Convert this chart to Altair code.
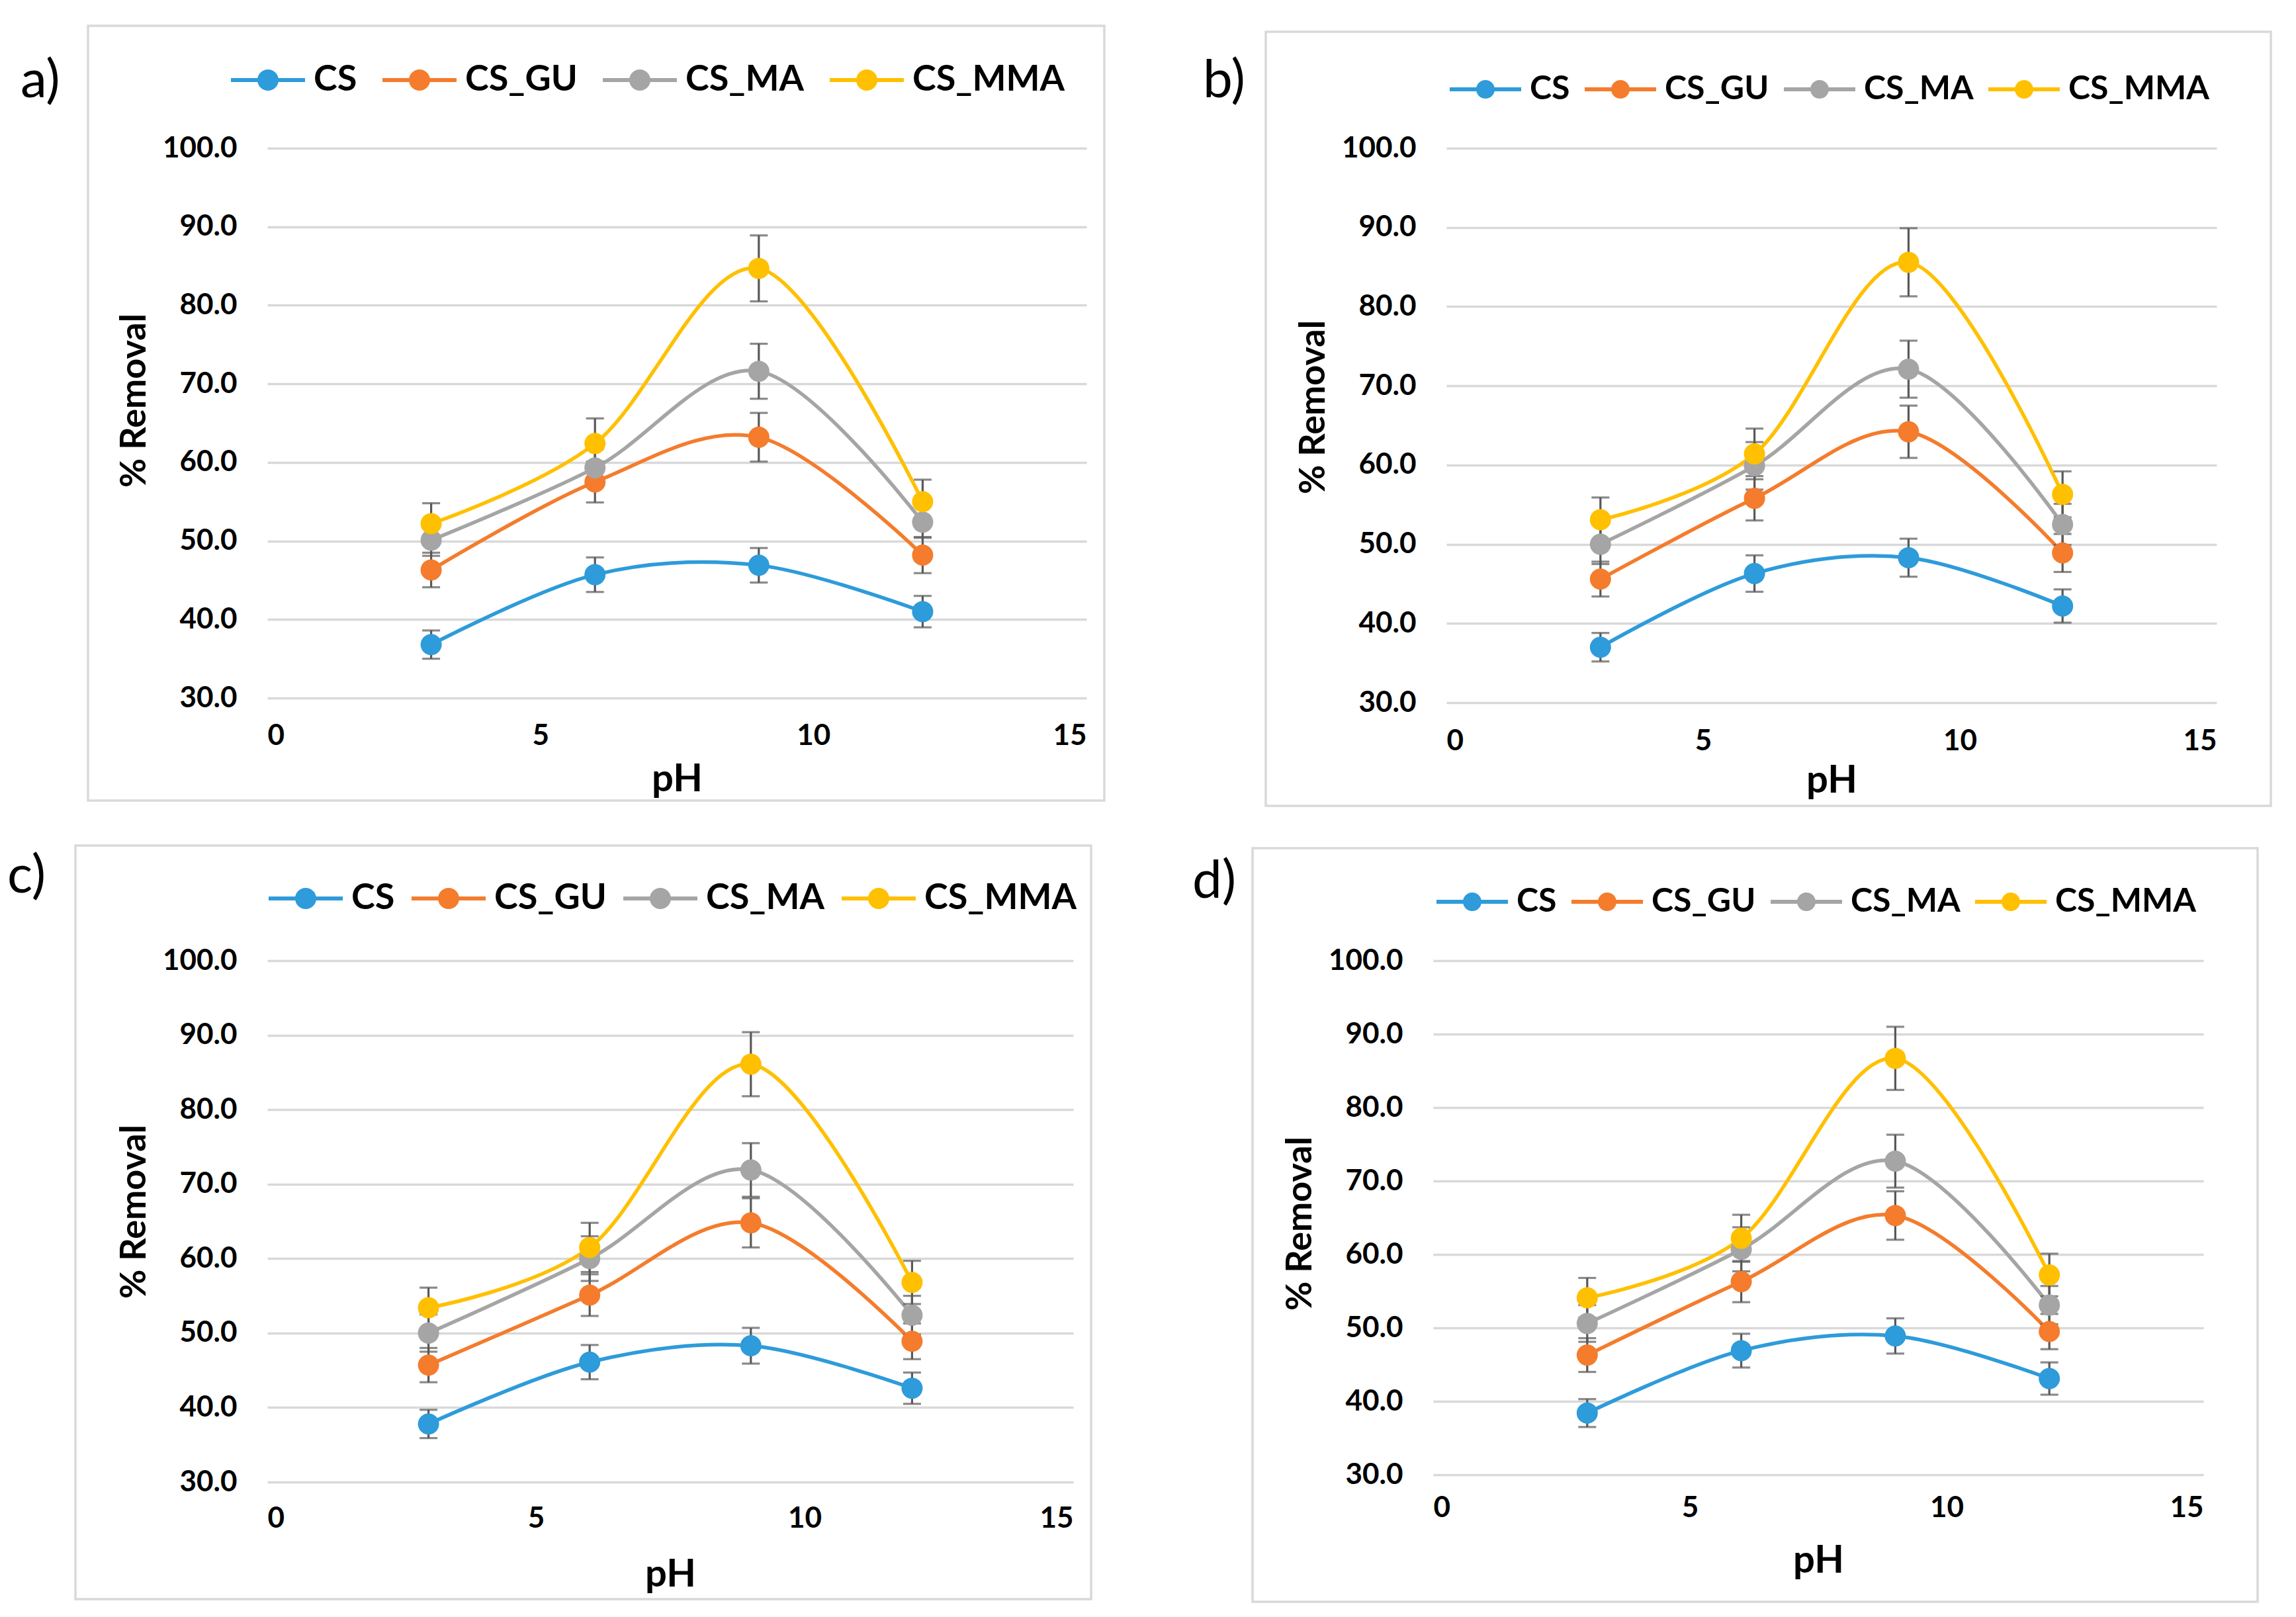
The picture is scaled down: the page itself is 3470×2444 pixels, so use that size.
import altair as alt
import pandas as pd

FONT = "Lato"
PH = [3, 6, 9, 12]
SERIES = ["CS", "CS_GU", "CS_MA", "CS_MMA"]
COLORS = ["#2E9BDA", "#F47C2C", "#A5A5A5", "#FFC000"]
Y_TICKS = [30, 40, 50, 60, 70, 80, 90, 100]
X_TICKS = [0, 5, 10, 15]

# panel a
A_VALUES = {"CS": [36.8, 45.7, 46.9, 41.0], "CS_GU": [46.3, 57.5, 63.2, 48.2],
            "CS_MA": [50.1, 59.3, 71.6, 52.4], "CS_MMA": [52.2, 62.4, 84.7, 55.0]}
A_ERRORS = {"CS": [1.8, 2.2, 2.2, 2.0], "CS_GU": [2.2, 2.6, 3.1, 2.3],
            "CS_MA": [2.0, 2.4, 3.5, 2.0], "CS_MMA": [2.6, 3.2, 4.2, 2.8]}
# panel b
B_VALUES = {"CS": [37.0, 46.3, 48.3, 42.2], "CS_GU": [45.6, 55.8, 64.2, 48.9],
            "CS_MA": [50.0, 59.9, 72.1, 52.5], "CS_MMA": [53.1, 61.4, 85.6, 56.3]}
B_ERRORS = {"CS": [1.8, 2.3, 2.4, 2.1], "CS_GU": [2.2, 2.8, 3.3, 2.4],
            "CS_MA": [2.5, 3.0, 3.6, 2.6], "CS_MMA": [2.8, 3.2, 4.3, 2.9]}
# panel c
C_VALUES = {"CS": [37.8, 46.1, 48.3, 42.6], "CS_GU": [45.7, 55.1, 64.8, 48.9],
            "CS_MA": [50.0, 60.0, 71.9, 52.4], "CS_MMA": [53.4, 61.5, 86.1, 56.8]}
C_ERRORS = {"CS": [1.9, 2.3, 2.4, 2.1], "CS_GU": [2.3, 2.8, 3.3, 2.4],
            "CS_MA": [2.5, 3.0, 3.6, 2.6], "CS_MMA": [2.7, 3.3, 4.3, 2.9]}
# panel d
D_VALUES = {"CS": [38.4, 46.9, 48.9, 43.1], "CS_GU": [46.3, 56.3, 65.3, 49.5],
            "CS_MA": [50.6, 60.7, 72.7, 53.1], "CS_MMA": [54.1, 62.2, 86.7, 57.2]}
D_ERRORS = {"CS": [1.9, 2.3, 2.4, 2.2], "CS_GU": [2.3, 2.8, 3.3, 2.4],
            "CS_MA": [2.5, 3.0, 3.6, 2.6], "CS_MMA": [2.7, 3.2, 4.3, 2.9]}

# layout / style per panel
STYLE = {
    "a)": dict(w=1238, h=831, frame=(-271, 27, -185, 155), lab=(-373, -101), lx=-55, ly=-159,
               lf=54, sw=112, r=0.286, cp=38, xt=123, yt=381, xlab=57),
    "b)": dict(w=1164, h=838, frame=(-273, 82, -176, 156), lab=(-368, -101), lx=5, ly=-143,
               lf=50, sw=108, r=0.26, cp=22, xt=118, yt=391, xlab=58),
    "c)": dict(w=1218, h=788, frame=(-290, 27, -174, 177), lab=(-393, -127), lx=2, ly=-150,
               lf=54, sw=112, r=0.286, cp=25, xt=140, yt=379, xlab=55),
    "d)": dict(w=1164, h=777, frame=(-273, 82, -170, 192), lab=(-364, -119), lx=5, ly=-143,
               lf=50, sw=108, r=0.26, cp=22, xt=130, yt=397, xlab=50),
}


def symbol_path(r, t):
    return (f"M-1,{-t}H1V{t}H-1Z M{r},0A{r},{r} 0 1,1 {-r},0A{r},{r} 0 1,1 {r},0Z")


def make_panel(letter, values, errors):
    p = STYLE[letter]
    rows = []
    for s, col in zip(SERIES, COLORS):
        for x, v, e in zip(PH, values[s], errors[s]):
            rows.append({"pH": x, "series": s, "line_color": col, "value": v,
                         "lo": v - e, "hi": v + e})
    df = pd.DataFrame(rows)
    w, h = p["w"], p["h"]

    xs = alt.Scale(domain=[0, 15], nice=False, zero=False)
    ys = alt.Scale(domain=[30, 100], nice=False, zero=False)
    xaxis = alt.Axis(values=X_TICKS, format="d", grid=False, domain=False, ticks=False,
                     labelFont=FONT, labelFontSize=44, labelFontWeight="bold", labelColor="black",
                     labelPadding=p["xlab"], labelBaseline="middle",
                     title="pH", titleFont=FONT, titleFontSize=58, titleFontWeight="bold",
                     titleColor="black", titleY=p["xt"], titleBaseline="middle")
    yaxis = alt.Axis(values=Y_TICKS, format=".1f", grid=True, gridColor="#D9D9D9", gridWidth=3.5,
                     domain=False, ticks=False, labelFont=FONT, labelFontSize=44,
                     labelFontWeight="bold", labelColor="black", labelPadding=46,
                     title="% Removal", titleFont=FONT, titleFontSize=54, titleFontWeight="bold",
                     titleColor="black", titleX=-201, titleY=p["yt"], titleAngle=270,
                     titleBaseline="middle", titleAlign="center")
    x = alt.X("pH:Q", scale=xs, axis=xaxis, title="pH")
    cscale = alt.Scale(domain=SERIES, range=COLORS)

    base = alt.Chart(df)
    lines = base.mark_line(interpolate="cardinal", tension=0, strokeWidth=5.5).encode(
        x=x,
        y=alt.Y("value:Q", scale=ys, axis=yaxis, title="% Removal"),
        stroke=alt.Stroke("line_color:N", scale=None),
        detail="series:N",
    )
    errs = base.mark_errorbar(ticks=True, size=27, thickness=3.2, color="#595959").encode(
        x=x,
        y=alt.Y("lo:Q", scale=ys, axis=yaxis, title="% Removal"),
        y2="hi:Q",
        detail="series:N",
    )
    legend = alt.Legend(orient="none", legendX=p["lx"], legendY=p["ly"], direction="horizontal",
                        title=None, symbolType=symbol_path(p["r"], 0.055),
                        symbolSize=p["sw"] ** 2, symbolStrokeWidth=0, symbolOpacity=1,
                        labelFont=FONT, labelFontSize=p["lf"], labelFontWeight="bold",
                        labelColor="black", labelOffset=13, labelLimit=600,
                        columnPadding=p["cp"], padding=0)
    points = base.mark_point(filled=True, size=1024, opacity=1).encode(
        x=x,
        y=alt.Y("value:Q", scale=ys, axis=yaxis, title="% Removal"),
        color=alt.Color("series:N", scale=cscale, legend=legend),
    )
    fr = p["frame"]
    deco = alt.Chart(alt.Data(values=[{"k": letter}]))
    frame = deco.mark_rect(filled=False, stroke="#D9D9D9", strokeWidth=3.5).encode(
        x=alt.value(fr[0]), x2=alt.value(w + fr[1]), y=alt.value(fr[2]), y2=alt.value(h + fr[3])
    )
    label = deco.mark_text(align="left", baseline="middle", font=FONT, fontSize=80,
                           color="black").encode(
        x=alt.value(p["lab"][0]), y=alt.value(p["lab"][1]), text="k:N"
    )
    return alt.layer(frame, lines, errs, points, label).properties(width=w, height=h)


pa = make_panel("a)", A_VALUES, A_ERRORS)
pb = make_panel("b)", B_VALUES, B_ERRORS)
pc = make_panel("c)", C_VALUES, C_ERRORS)
pd_ = make_panel("d)", D_VALUES, D_ERRORS)

row1 = alt.hconcat(pa, pb, spacing=147).resolve_scale(color="independent")
row2 = alt.hconcat(pc, pd_, spacing=151).resolve_scale(color="independent")
chart = alt.vconcat(row1, row2, spacing=56).resolve_scale(color="independent").properties(
    padding={"left": 3, "top": 29, "right": 0, "bottom": 0},
    background="white",
).configure_view(stroke=None)

chart.save("out.html", embed_options={"renderer": "svg", "actions": False})
